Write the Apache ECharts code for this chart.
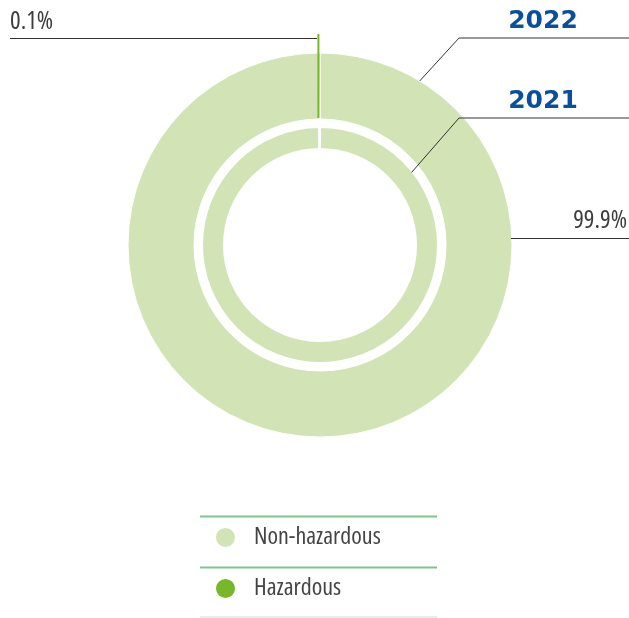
<!DOCTYPE html>
<html>
<head>
<meta charset="utf-8">
<script src="https://cdn.jsdelivr.net/npm/echarts@6/dist/echarts.min.js"></script>
<style>
  html, body { margin: 0; padding: 0; background: #fff; }
  #chart { width: 629px; height: 618px; }
</style>
</head>
<body>
<div id="chart"></div>
<script>
// Waste by type, share of total (%)
const categories = ['Non-hazardous', 'Hazardous'];
const years = ['2022', '2021'];
const values2022 = [99.9, 0.1];
const values2021 = [99.9, 0.1];
const colors = ['#d2e3b5', '#77b82b'];

// Layout
const W = 629;
const CX = 320, CY = 245;
const OUTER = [126, 192];   // 2022 ring
const INNER = [96, 118];    // 2021 ring
const FONT = '"Open Sans", "Roboto Condensed", sans-serif';
const STRETCH = 'condensed';
const TEXT = '#3d3d3d';
const RULE = '#333333';
const STUB = 19;            // hazardous marker height above the ring

const chart = echarts.init(document.getElementById('chart'));

function pieData(values) {
  return categories.map((name, i) => ({ name, value: values[i], itemStyle: { color: colors[i] } }));
}

function ringPoint(r, deg) {
  const a = deg * Math.PI / 180;
  return [CX + r * Math.cos(a), CY - r * Math.sin(a)];
}

// Year callouts: elbow line from the ring edge to the right margin, year above it
const yearCallouts = [
  { text: years[0], r: OUTER[1], angle: 58.7, lineY: 38 },
  { text: years[1], r: INNER[1] - 1, angle: 38.4, lineY: 118 }
];
const ELBOW_X = 459;
const graphics = [];
yearCallouts.forEach(c => {
  graphics.push({
    type: 'polyline', silent: true, z: 100,
    shape: { points: [ringPoint(c.r, c.angle), [ELBOW_X, c.lineY], [W, c.lineY]] },
    style: { stroke: RULE, lineWidth: 1, fill: null }
  });
  graphics.push({
    type: 'text', silent: true, z: 100,
    x: (ELBOW_X + W) / 2 - 1, y: c.lineY - 17,
    style: {
      text: c.text, fill: '#0b4f9c', fontSize: 25, fontWeight: 'bold',
      fontFamily: '"DejaVu Sans", sans-serif', align: 'center', verticalAlign: 'middle'
    }
  });
});

// Legend separator rules
const LEGEND_LEFT = 200, LEGEND_RIGHT = 437;
[[516.5, '#7dc68b'], [567.5, '#7dc68b'], [617, '#e2f0e6']].forEach(([y, col]) => {
  graphics.push({
    type: 'line', silent: true,
    shape: { x1: LEGEND_LEFT, y1: y, x2: LEGEND_RIGHT, y2: y },
    style: { stroke: col, lineWidth: 2 }
  });
});

const underline = (width) => ({ width, height: 1, lineHeight: 1, fontSize: 1, backgroundColor: RULE });

// 2022 ring with its percentage labels
const outerData = pieData(values2022);

// Transparent copy of the 2022 ring on top, carrying the green hazardous marker
const markerData = categories.map((name, i) => ({
  name, value: values2022[i],
  itemStyle: { color: 'rgba(0,0,0,0)', borderWidth: 0 },
  label: { show: i === 1 },
  labelLine: { show: i === 1, lineStyle: { color: colors[1], width: 2, opacity: 1 } }
}));

const option = {
  animation: false,
  graphic: graphics,
  legend: {
    orient: 'vertical',
    left: 214, top: 520,
    padding: 0,
    data: categories,
    icon: 'circle',
    itemWidth: 21, itemHeight: 21,
    itemGap: 16,
    selectedMode: false,
    textStyle: {
      fontFamily: FONT, fontStyle: STRETCH, fontSize: 24, color: '#444', lineHeight: 21,
      padding: [14, 0, 0, 13]
    }
  },
  series: [
    {
      name: years[0],
      type: 'pie',
      center: [CX, CY],
      radius: OUTER,
      startAngle: 90,
      clockwise: true,
      emphasis: { disabled: true },
      itemStyle: { borderColor: '#fff', borderWidth: 1 },
      data: outerData,
      labelLine: { show: false },
      label: {
        show: true,
        position: 'outside',
        width: 330,
        overflow: 'none',
        formatter: p => p.dataIndex === 0 ? `{t|${p.value}%}\n{u| }` : `{s|${p.value}%}\n{v| }`,
        rich: {
          t: { fontFamily: FONT, fontStyle: STRETCH, fontSize: 25, color: TEXT, lineHeight: 34, align: 'right', padding: [0, 2, 0, 0] },
          s: { fontFamily: FONT, fontStyle: STRETCH, fontSize: 25, color: TEXT, lineHeight: 32, align: 'left' },
          u: Object.assign(underline(W - (CX + OUTER[1]) + 1), { align: 'right' }),
          v: Object.assign(underline(CX - 3 - 10), { align: 'left' })
        }
      },
      labelLayout: function (p) {
        if (p.dataIndex === 0) {
          return { x: W, y: CY - 6, align: 'right', verticalAlign: 'bottom' };
        }
        return { x: 10, y: CY - OUTER[1] - STUB + 5, align: 'left', verticalAlign: 'bottom' };
      }
    },
    {
      name: years[1],
      type: 'pie',
      center: [CX, CY],
      radius: INNER,
      startAngle: 90,
      clockwise: true,
      emphasis: { disabled: true },
      itemStyle: { borderColor: '#fff', borderWidth: 2 },
      label: { show: false },
      labelLine: { show: false },
      data: pieData(values2021)
    },
    {
      name: years[0],
      type: 'pie',
      z: 5,
      silent: true,
      center: [CX, CY],
      radius: OUTER,
      startAngle: 90,
      clockwise: true,
      emphasis: { disabled: true },
      data: markerData,
      label: { position: 'outside', formatter: ' ', fontSize: 1 },
      labelLayout: function (p) {
        const x0 = (p.labelLinePoints ? p.labelLinePoints[0][0] : CX) - 1;
        const top = CY - OUTER[1] - STUB;
        return {
          x: x0, y: top,
          labelLinePoints: [[x0, CY - OUTER[0] - 1], [x0, top], [x0, top]]
        };
      }
    }
  ]
};

chart.setOption(option);
</script>
</body>
</html>
